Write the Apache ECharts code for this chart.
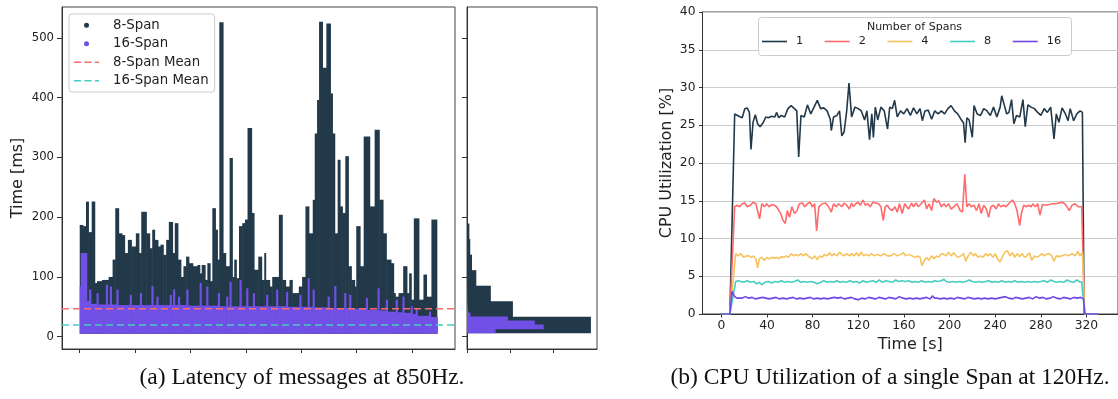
<!DOCTYPE html>
<html><head><meta charset="utf-8">
<script src="https://cdn.jsdelivr.net/npm/echarts@6/dist/echarts.min.js"></script>
<style>html,body{margin:0;padding:0;background:#fff}#c{width:1118px;height:399px}</style>
</head><body><div id="c"></div>
<script>
// ---------- (a) latency scatter: column envelopes [xStart, xEnd, topMs] ----------
const latFloor = 5;
const lat8 = [[0,2.7,187],[2.7,5.7,185],[5.7,7.8,226],[7.8,10.8,175],[10.8,13.5,226],[13.5,15.6,90],[15.6,20.1,93],[20.1,26.1,95],[26.1,29.7,100],[29.7,32.1,129],[32.1,35.1,215],[35.1,38.1,173],[38.1,40.5,170],[40.5,43.5,140],[43.5,46.6,162],[46.6,50.7,151],[50.7,53.4,173],[53.4,55.6,140],[55.6,60.1,209],[60.1,63.1,173],[63.1,65.5,148],[65.5,67.6,179],[67.6,70.6,162],[70.6,73.0,151],[73.0,75.4,154],[75.4,78.1,137],[78.1,80.5,162],[80.5,83.8,192],[83.8,85.9,140],[85.9,88.6,190],[88.6,91.3,129],[91.3,93.7,100],[93.7,96.1,118],[96.1,98.5,134],[98.5,102.1,123],[102.1,106.3,118],[106.3,108.4,120],[108.4,110.2,106],[110.2,113.2,120],[113.2,115.3,95],[115.3,117.7,123],[117.7,119.8,93],[119.8,122.5,215],[122.5,124.3,179],[124.3,126.1,129],[126.1,129.4,526],[129.4,131.8,140],[131.8,135.4,118],[135.4,137.8,299],[137.8,139.6,100],[139.6,141.4,129],[141.4,143.9,98],[143.9,146.8,185],[146.8,149.3,190],[149.3,151.6,196],[151.6,155.2,349],[155.2,157.4,207],[157.4,161.3,112],[161.3,164.3,134],[164.3,166.7,95],[166.7,167.9,140],[167.9,171.5,95],[171.5,173.9,84],[173.9,179.9,100],[179.9,182.9,204],[182.9,185.9,95],[185.9,189.5,84],[189.5,191.9,95],[191.9,197.9,73],[197.9,200.9,84],[200.9,203.9,100],[203.9,206.9,218],[206.9,210.5,173],[210.5,212.3,229],[212.3,214.4,340],[214.4,216.2,396],[216.2,219.2,527],[219.2,222.8,450],[222.8,226.4,524],[226.4,228.2,407],[228.2,230.3,340],[230.3,233.0,173],[233.0,235.1,296],[235.1,237.2,218],[237.2,239.9,207],[239.9,242.6,302],[242.6,245.3,118],[245.3,248.3,95],[248.3,249.8,84],[249.8,253.2,185],[253.2,256.5,118],[256.5,261.9,335],[261.9,266.4,218],[266.4,270.5,346],[270.5,273.9,229],[273.9,276.9,173],[276.9,281.1,129],[281.1,283.5,123],[283.5,285.0,73],[285.0,288.0,67],[288.0,292.2,73],[292.2,295.5,118],[295.5,297.6,73],[297.6,299.4,106],[299.4,301.8,62],[301.8,306.3,198],[306.3,310.5,62],[310.5,313.2,104],[313.2,317.7,67],[317.7,322.5,196]];
const lat16 = [[0,0.9,84],[0.9,6.3,140],[6.3,8.4,60],[8.4,10,79],[10,15.2,55],[15.2,16.6,73],[16.6,23.6,54],[23.6,25.0,87],[25.0,27.2,54],[27.2,28.6,84],[28.6,33.2,54],[33.2,34.6,79],[34.6,45.2,53],[45.2,46.6,70],[46.6,54.3,53],[54.3,55.7,73],[55.7,64.8,53],[64.8,66.2,85],[66.2,69.3,53],[69.3,70.7,67],[70.7,81.3,53],[81.3,82.7,70],[82.7,84.3,53],[84.3,85.7,79],[85.7,88.8,53],[88.8,90.2,67],[90.2,96.3,53],[96.3,97.7,79],[97.7,108.3,52],[108.3,109.7,90],[109.7,114.3,52],[114.3,115.7,84],[115.7,124.8,52],[124.8,126.2,73],[126.2,132.3,51],[132.3,133.7,67],[133.7,135.3,51],[135.3,136.7,92],[136.7,144.3,51],[144.3,145.7,95],[145.7,150.4,51],[150.4,151.8,81],[151.8,156.4,51],[156.4,157.8,73],[157.8,168.4,51],[168.4,169.8,70],[169.8,177.4,51],[177.4,178.8,79],[178.8,186.4,51],[186.4,187.8,75],[187.8,198.4,50],[198.4,199.8,70],[199.8,205.9,50],[205.9,207.3,98],[207.3,210.4,50],[210.4,211.8,79],[211.8,223.9,49],[223.9,225.3,67],[225.3,229.9,48],[229.9,231.3,85],[231.3,238.9,48],[238.9,240.3,73],[240.3,243.4,48],[243.4,244.8,70],[244.8,258.5,47],[258.5,259.9,65],[259.9,269.0,45],[269.0,270.4,81],[270.4,276.5,44],[276.5,277.9,62],[277.9,285.5,42],[285.5,286.9,62],[286.9,291.5,41],[291.5,292.9,67],[292.9,299.0,40],[299.0,300.4,51],[300.4,303.5,38],[303.5,304.9,48],[304.9,315.5,35],[315.5,316.9,42],[316.9,323,33]];
const mean8 = 46.8;
const mean16 = 19.8;
const latTicksY = [0,100,200,300,400,500];
const latTicksX = [0,50,100,150,200,250,300];

// ---------- histogram (counts in thousands) ----------
const hist8Edges = [6.7,32.7,58.7,84.7,110.7,136.7,162.7,188.7,214.7,240.7,266.7,292.7,318.7,344.7,370.7,396.7,422.7,448.7,474.7,500.7,526.7];
const hist8Counts = [57.2,21.2,11.0,4.3,2.3,1.5,1.1,0.3,0.15,0.1,0.08,0.06,0.05,0.04,0.03,0.03,0.02,0.02,0.02,0.01];
const hist16Edges = [6.5,13.2,19.9,26.6,33.3,40.0,46.7,53.4,60.1,66.8,73.5,80.2,86.9,93.6,100.3,107.0,113.7,120.4,127.1,133.8,140.5];
const hist16Counts = [13.2,35.4,31.3,18.9,1.6,0.5,0.3,0.2,0.12,0.08,0.06,0.04,0.03,0.02,0.02,0.01,0.01,0.01,0.01,0.01];
const histTicksX = [0,20,40];

// ---------- (b) CPU utilization [time s, %] ----------
const cpu1 = [[0,0],[7.5,0],[11.7,26.5],[15.5,26.2],[18.3,26.0],[20.6,27.2],[22.6,27.3],[24.6,26.7],[26.0,21.8],[27.8,25.4],[29.8,26.4],[31.8,25.2],[34.0,24.8],[36.9,25.4],[38.9,26.1],[41.2,26.0],[44.1,26.2],[46.9,26.1],[48.4,26.7],[50.3,26.0],[52.6,26.3],[55.5,26.1],[58.4,27.2],[61.2,27.6],[64.1,27.2],[66.1,26.9],[67.8,20.8],[69.8,26.3],[72.7,26.1],[75.5,27.7],[78.4,26.5],[81.3,27.4],[84.1,28.3],[87.0,27.2],[89.8,27.3],[92.7,26.9],[95.5,25.8],[96.4,24.3],[98.4,26.1],[101.3,26.3],[103.6,26.9],[105.6,23.6],[107.6,24.1],[109.9,26.9],[111.9,30.6],[114.2,26.1],[117.1,27.4],[120.0,27.2],[122.7,26.9],[125.6,25.7],[127.6,26.9],[129.9,23.1],[131.9,26.5],[133.3,23.4],[135.0,27.4],[137.1,25.7],[139.9,27.4],[142.8,26.9],[145.7,24.5],[147.6,27.4],[149.9,27.2],[151.9,28.3],[154.2,26.1],[157.1,26.9],[159.9,26.5],[162.8,27.2],[165.7,26.3],[168.5,27.3],[171.4,26.5],[174.2,27.2],[176.2,25.6],[178.5,26.9],[181.4,27.0],[184.3,25.8],[187.1,26.9],[190.0,26.5],[192.9,26.9],[195.7,26.5],[198.6,27.2],[201.4,27.6],[204.3,26.9],[207.2,26.5],[210.0,25.8],[212.3,25.3],[213.7,22.7],[215.2,26.0],[217.2,25.7],[220.0,23.4],[221.5,27.6],[224.3,26.5],[227.2,26.3],[230.0,27.2],[232.9,26.9],[235.8,26.3],[238.6,27.4],[241.5,26.1],[244.4,27.4],[245.8,28.9],[247.8,27.8],[250.1,26.5],[252.1,26.7],[254.4,28.4],[256.4,25.2],[258.7,26.3],[261.6,26.1],[264.4,28.4],[266.4,24.8],[268.7,27.7],[271.5,27.4],[274.4,27.2],[277.3,26.7],[280.1,26.3],[283.0,27.2],[285.8,26.7],[288.7,27.4],[291.6,23.2],[293.6,26.5],[295.9,25.4],[298.7,27.3],[301.6,26.5],[303.9,25.6],[305.8,27.2],[308.8,25.6],[311.6,26.5],[314.5,26.9],[316.5,26.7],[318,0],[330,0]];
const cpu2 = [[0,0],[7.5,0],[11.7,14.2],[14.0,14.4],[16.0,14.2],[18.3,14.6],[20.6,14.7],[22.6,14.2],[25.5,14.4],[27.8,14.8],[30.3,14.6],[32.0,14.8],[33.5,12.6],[35.5,14.6],[37.8,14.2],[39.8,14.6],[41.8,14.2],[44.1,14.5],[46.4,14.4],[48.4,14.2],[49.8,14.4],[52.1,13.3],[54.1,12.4],[56.1,12.0],[57.8,13.7],[59.8,12.8],[61.8,14.2],[64.1,13.3],[66.4,13.7],[68.4,14.6],[71.2,14.7],[73.2,14.2],[75.5,14.6],[77.8,14.8],[79.8,14.2],[81.8,14.6],[83.5,11.0],[85.5,14.2],[88.4,14.6],[91.3,14.7],[94.1,14.2],[96.4,13.5],[98.4,14.6],[100.7,14.2],[102.8,14.6],[105.6,14.2],[107.6,14.7],[109.9,14.4],[112.2,13.9],[114.2,14.7],[115.6,14.2],[117.9,14.6],[119.9,14.8],[121.9,14.4],[124.2,15.1],[126.2,14.4],[128.5,14.6],[130.5,14.2],[132.8,14.8],[135.6,14.7],[137.9,14.6],[139.9,14.2],[141.9,12.4],[143.6,14.2],[145.6,14.4],[147.6,13.9],[149.9,13.7],[152.2,14.2],[154.2,13.5],[156.2,14.6],[158.5,13.3],[160.8,14.6],[164.1,13.9],[166.7,14.7],[168.5,14.2],[170.5,14.7],[172.8,14.2],[175.1,14.6],[178.0,15.1],[180.0,13.9],[182.0,14.6],[184.3,13.7],[186.3,15.3],[188.6,14.8],[190.6,15.0],[192.8,14.2],[195.1,14.6],[197.1,14.2],[199.2,14.6],[201.4,13.9],[203.7,14.2],[206.6,14.6],[209.4,13.7],[211.4,13.5],[213.4,18.5],[215.2,14.2],[217.2,14.6],[219.2,14.2],[221.5,14.4],[223.7,13.7],[225.8,14.6],[227.8,13.3],[230.0,14.4],[232.3,13.9],[234.3,12.8],[236.3,14.2],[238.6,14.4],[240.9,13.9],[242.9,14.6],[244.9,14.2],[247.2,14.4],[249.5,14.2],[252.4,14.7],[255.2,15.1],[257.2,14.6],[259.2,13.7],[261.5,11.7],[263.0,13.3],[265.0,14.4],[267.2,14.2],[269.5,14.4],[271.5,14.2],[273.0,14.6],[275.3,14.2],[277.3,14.6],[279.3,13.1],[281.5,14.5],[284.4,14.4],[287.3,14.5],[290.1,14.6],[293.0,14.6],[295.8,14.7],[298.7,14.8],[301.0,14.6],[303.0,14.2],[305.0,13.7],[307.3,14.4],[310.1,14.6],[313.0,14.2],[315.9,14.2],[317.3,14.2],[318.3,0],[330,0]];
const cpu4 = [[0,0],[7.5,0],[12.6,8.0],[14.9,7.7],[16.9,8.0],[19.7,7.5],[21.7,7.7],[24.0,7.7],[26.3,7.5],[28.3,7.7],[30.3,7.3],[31.8,6.1],[33.2,7.3],[35.5,7.5],[37.8,7.1],[39.8,7.5],[41.8,7.3],[44.1,7.5],[46.4,7.4],[48.4,7.5],[50.4,7.3],[52.6,7.6],[54.9,7.5],[56.9,7.7],[58.9,7.5],[61.2,8.0],[63.5,7.7],[65.5,7.9],[67.5,7.7],[69.8,8.0],[72.1,7.7],[74.1,8.0],[76.1,7.7],[77.8,7.5],[79.8,7.3],[81.8,7.7],[84.1,7.2],[86.4,7.7],[88.4,7.5],[90.4,7.9],[92.7,7.7],[95.0,8.1],[97.0,7.7],[99.0,8.0],[101.3,7.7],[103.6,8.2],[105.6,7.9],[107.6,7.7],[109.9,8.0],[112.2,7.7],[114.2,8.0],[116.2,7.7],[118.5,8.1],[120.7,7.7],[122.7,8.2],[124.7,7.7],[127.0,7.9],[129.3,7.7],[131.3,8.0],[134.2,7.7],[137.1,7.9],[139.9,7.7],[142.8,8.0],[145.6,7.7],[148.5,7.7],[151.4,8.0],[154.2,7.7],[157.1,7.9],[159.9,8.1],[161.4,7.7],[164.2,7.9],[167.1,7.7],[170.0,7.5],[172.3,7.7],[174.3,7.5],[175.8,6.4],[178.0,7.1],[180.0,7.5],[182.0,7.1],[184.3,7.7],[186.6,7.3],[188.6,7.7],[190.6,7.5],[192.8,8.0],[195.1,7.9],[197.1,7.7],[199.2,8.2],[201.4,7.7],[203.7,8.1],[205.7,7.7],[207.7,7.5],[210.0,7.7],[212.3,8.0],[214.3,7.0],[216.3,7.7],[218.6,8.2],[220.9,7.7],[222.9,8.0],[224.9,7.5],[227.2,7.7],[229.5,7.5],[231.5,8.0],[233.5,7.7],[235.8,8.0],[238.1,7.5],[240.1,8.0],[242.1,7.3],[244.4,6.9],[246.7,7.7],[248.7,8.2],[250.7,8.4],[253.0,7.7],[255.2,8.1],[257.2,7.5],[259.2,8.0],[261.5,7.6],[263.8,8.0],[265.8,7.5],[267.8,7.7],[270.1,8.1],[272.1,7.1],[274.4,7.7],[276.4,7.5],[278.7,7.7],[281.0,8.0],[283.0,7.7],[285.0,7.9],[287.3,8.0],[289.6,7.7],[291.6,7.0],[293.6,7.7],[295.8,7.6],[298.7,7.7],[301.6,7.9],[304.4,7.7],[307.3,8.0],[310.1,7.7],[312.4,8.3],[314.5,7.7],[316.5,8.2],[317.5,8.0],[318.5,0],[330,0]];
const cpu8 = [[0,0],[7.5,0],[12.6,4.3],[14.9,4.4],[16.9,4.3],[19.7,4.2],[22.6,4.4],[25.5,4.2],[28.3,4.3],[31.2,4.0],[33.2,4.2],[35.5,3.9],[38.3,4.2],[41.2,4.3],[44.1,4.1],[46.9,4.3],[49.8,4.2],[52.6,4.4],[55.5,4.2],[58.4,4.3],[61.2,4.2],[64.1,4.3],[67.0,4.5],[69.8,4.2],[72.7,4.3],[75.5,4.2],[78.4,4.3],[81.3,4.2],[84.1,4.0],[87.0,4.2],[89.8,4.4],[92.7,4.2],[95.6,4.3],[98.4,4.2],[101.3,4.4],[104.1,4.2],[107.0,4.3],[109.9,4.2],[112.7,4.4],[115.6,4.2],[118.5,4.3],[121.3,4.1],[124.2,4.4],[127.0,4.2],[129.9,4.3],[132.8,4.4],[135.6,4.2],[138.5,4.5],[141.3,4.2],[144.2,4.4],[147.1,4.3],[149.9,4.2],[152.8,4.5],[155.6,4.3],[158.5,4.4],[161.4,4.3],[164.2,4.4],[167.1,4.2],[170.0,4.3],[172.8,4.2],[175.6,4.4],[178.5,4.2],[181.4,4.3],[184.3,4.2],[187.1,4.4],[190.0,4.3],[192.8,4.4],[195.1,4.6],[197.1,4.3],[200.0,4.2],[202.8,4.3],[205.7,4.2],[208.6,4.3],[211.4,4.2],[214.3,4.3],[217.2,4.5],[220.0,4.3],[222.9,4.2],[225.8,4.3],[228.6,4.2],[231.5,4.3],[234.3,4.4],[237.2,4.2],[240.1,4.3],[242.9,4.2],[245.8,4.4],[248.7,4.2],[251.6,4.3],[254.4,4.2],[257.2,4.4],[260.1,4.2],[263.0,4.3],[265.8,4.2],[268.7,4.3],[271.5,4.2],[274.4,4.3],[277.3,4.2],[280.1,4.3],[283.0,4.4],[285.8,4.2],[288.7,4.5],[291.6,4.3],[294.4,4.2],[297.3,4.3],[300.1,4.2],[303.0,4.5],[305.8,4.3],[308.7,4.2],[311.6,4.5],[313.6,4.3],[315.9,4.2],[317.6,4.2],[318.6,0],[330,0]];
const cpu16 = [[0,0],[7.5,0],[9.3,3.0],[11.7,2.3],[13.5,2.1],[15,2.0],[18,2.1],[21,2.3],[24,2.1],[27,2.2],[30,2.0],[33,2.1],[36,2.2],[39,2.1],[42,2.0],[45,2.1],[48,2.2],[51,2.0],[54,2.1],[57,2.0],[60,2.1],[63,2.2],[66,2.0],[69,2.1],[72,2.0],[75,2.1],[78,2.2],[81,2.0],[84,2.1],[87,2.0],[90,2.1],[93,2.0],[96,2.1],[99,2.2],[102,2.1],[105,2.2],[108,2.0],[111,2.1],[114,2.2],[117,2.0],[120,1.9],[123,2.1],[126,2.0],[129,2.2],[132,2.1],[135,2.0],[138,2.2],[141,2.1],[144,2.0],[147,2.2],[150,2.1],[153,2.0],[156,2.3],[159,2.1],[162,2.0],[165,2.1],[168,2.0],[171,2.1],[174,2.0],[177,2.1],[180,2.2],[183,2.0],[185,2.4],[187,2.1],[189,2.1],[192,2.0],[195,2.1],[198,2.0],[201,2.1],[204,2.0],[207,2.2],[210,2.1],[213,2.0],[216,2.2],[219,2.1],[222,2.0],[225,2.1],[228,2.0],[231,2.1],[234,2.0],[237,2.1],[240,2.0],[243,2.1],[246,2.2],[249,2.3],[252,2.1],[255,2.0],[258,2.2],[261,2.1],[264,2.0],[267,2.1],[270,2.2],[273,2.0],[276,2.3],[279,2.1],[282,2.2],[285,2.0],[288,2.1],[291,2.3],[294,2.1],[297,2.0],[300,2.2],[303,2.1],[306,2.0],[309,2.2],[312,2.1],[315,2.2],[317.5,2.0],[318.6,0],[330,0]];
const cpuTicksX = [0,40,80,120,160,200,240,280,320];
const spanNames = ['1','2','4','8','16'];

const C = {dark:'#22394a', purple:'#7150e6', red:'#ff6b6b', orange:'#f7c25c', teal:'#45cdc4', purple2:'#7048e8'};
const FONT = 'DejaVu Sans';
const LAT_X = [-16, 339], LAT_Y = [-20.5, 551.5];
const DASH_ICON = 'path://M0,0H7V1.5H0Z M10.5,0H17.5V1.5H10.5Z M21,0H25V1.5H21Z';
const LINE_ICON = 'path://M0,0H25V1.6H0Z';

function rangeRect(color){
  return function(params, api){
    const p0 = api.coord([api.value(0), api.value(3)]);
    const p1 = api.coord([api.value(1), api.value(2)]);
    return {type:'rect', shape:{x:p0[0], y:p0[1], width:p1[0]-p0[0]+0.6, height:p1[1]-p0[1]}, style:{fill:color}};
  };
}
function histRect(color){
  return function(params, api){
    const p0 = api.coord([0, api.value(2)]);
    const p1 = api.coord([api.value(0), api.value(1)]);
    return {type:'rect', shape:{x:p0[0], y:p0[1]-0.4, width:p1[0]-p0[0], height:p1[1]-p0[1]+0.8}, style:{fill:color}};
  };
}
function histData(edges, counts){ return counts.map((c,i)=>[c, edges[i], edges[i+1]]); }

const axisLineStyle = {show:true, onZero:false, lineStyle:{color:'#333', width:1}};

const chart = echarts.init(document.getElementById('c'), null, {renderer:'canvas'});
chart.setOption({
  animation:false,
  textStyle:{fontFamily:FONT},
  grid:[
    {left:62, top:7, width:393, height:342, show:true, borderColor:'#444', borderWidth:1, backgroundColor:'transparent'},
    {left:467, top:7, width:130, height:342, show:true, borderColor:'#444', borderWidth:1, backgroundColor:'transparent'},
    {left:702.5, top:12, width:424.5, height:302, show:true, borderColor:'#444', borderWidth:1, backgroundColor:'transparent'}
  ],
  xAxis:[
    {type:'value', gridIndex:0, min:LAT_X[0], max:LAT_X[1], axisLine:axisLineStyle, splitLine:{show:false},
      axisTick:{show:true, length:4, customValues:latTicksX, lineStyle:{color:'#333'}}, axisLabel:{show:false}},
    {type:'value', gridIndex:1, min:0, max:60, axisLine:axisLineStyle, splitLine:{show:false},
      axisTick:{show:true, length:4, customValues:histTicksX, lineStyle:{color:'#333'}}, axisLabel:{show:false}},
    {type:'value', gridIndex:2, min:-16.5, max:347.7, axisLine:axisLineStyle, splitLine:{show:false},
      axisTick:{show:true, length:3.5, customValues:cpuTicksX, lineStyle:{color:'#333'}},
      axisLabel:{customValues:cpuTicksX, fontSize:12.3, color:'#222', margin:6},
      name:'Time [s]', nameLocation:'middle', nameGap:21, nameTextStyle:{fontSize:16, color:'#222'}}
  ],
  yAxis:[
    {type:'value', gridIndex:0, min:LAT_Y[0], max:LAT_Y[1], axisLine:axisLineStyle, splitLine:{show:false},
      axisTick:{show:true, length:5, customValues:latTicksY, lineStyle:{color:'#333'}},
      axisLabel:{customValues:latTicksY, fontSize:11.7, color:'#222', margin:8},
      name:'Time [ms]', nameLocation:'middle', nameGap:36, nameTextStyle:{fontSize:16, color:'#222'}},
    {type:'value', gridIndex:1, min:LAT_Y[0], max:LAT_Y[1], axisLine:axisLineStyle, splitLine:{show:false},
      axisTick:{show:true, length:5, customValues:latTicksY, lineStyle:{color:'#333'}}, axisLabel:{show:false}},
    {type:'value', gridIndex:2, min:0, max:40, interval:5, axisLine:axisLineStyle,
      axisTick:{show:true, length:3.5, lineStyle:{color:'#333'}},
      axisLabel:{fontSize:12.3, color:'#222', margin:7},
      splitLine:{show:true, lineStyle:{color:'#cccccc', width:1}},
      name:'CPU Utilization [%]', nameLocation:'middle', nameGap:28, nameTextStyle:{fontSize:16, color:'#222'}}
  ],
  legend:[
    {orient:'vertical', left:69, top:14, padding:[2,6,2,5], itemGap:0, itemWidth:25, itemHeight:5,
     backgroundColor:'rgba(255,255,255,0.85)', borderColor:'#cccccc', borderWidth:1, borderRadius:3,
     textStyle:{fontSize:13.3, color:'#222', lineHeight:18.5, padding:[0,0,0,9]},
     data:[{name:'8-Span', icon:'circle'},{name:'16-Span', icon:'circle'},
           {name:'8-Span Mean', icon:DASH_ICON},{name:'16-Span Mean', icon:DASH_ICON}]},
    {orient:'horizontal', left:762, top:36, padding:0, itemGap:21.5, itemWidth:25, itemHeight:10,
     textStyle:{fontSize:11.3, color:'#222', padding:[0,0,0,4]},
     data:spanNames.map(n=>({name:n, icon:LINE_ICON}))}
  ],
  graphic:[
    {type:'rect', left:758, top:17, z:3, shape:{width:313, height:38, r:3}, style:{fill:'rgba(255,255,255,0.9)', stroke:'#cccccc', lineWidth:1}},
    {type:'text', z:5, x:914.5, y:27, style:{text:'Number of Spans', font:'11px "DejaVu Sans"', fill:'#222', textAlign:'center', textVerticalAlign:'middle'}},
    {type:'text', x:302, y:378, style:{text:'(a) Latency of messages at 850Hz.', font:'23.5px "Liberation Serif"', fill:'#111', textAlign:'center', textVerticalAlign:'middle'}},
    {type:'text', x:890, y:378, style:{text:'(b) CPU Utilization of a single Span at 120Hz.', font:'23.5px "Liberation Serif"', fill:'#111', textAlign:'center', textVerticalAlign:'middle'}}
  ],
  series:[
    {name:'8-Span', type:'custom', xAxisIndex:0, yAxisIndex:0, clip:true, itemStyle:{color:C.dark},
     encode:{x:[0,1], y:[2,3]}, data:lat8.map(d=>[d[0], d[1], latFloor, d[2]]), renderItem:rangeRect(C.dark)},
    {name:'16-Span', type:'custom', xAxisIndex:0, yAxisIndex:0, clip:true, itemStyle:{color:C.purple},
     encode:{x:[0,1], y:[2,3]}, data:lat16.map(d=>[d[0], d[1], latFloor, d[2]]), renderItem:rangeRect(C.purple)},
    {name:'8-Span Mean', type:'line', xAxisIndex:0, yAxisIndex:0, symbol:'none', z:5,
     lineStyle:{color:C.red, width:1.5, type:[7,4]}, itemStyle:{color:C.red}, data:[[LAT_X[0], mean8],[LAT_X[1], mean8]]},
    {name:'16-Span Mean', type:'line', xAxisIndex:0, yAxisIndex:0, symbol:'none', z:5,
     lineStyle:{color:C.teal, width:1.5, type:[7,4]}, itemStyle:{color:C.teal}, data:[[LAT_X[0], mean16],[LAT_X[1], mean16]]},
    {name:'hist8', type:'custom', xAxisIndex:1, yAxisIndex:1, clip:true, encode:{x:0, y:[1,2]},
     data:histData(hist8Edges, hist8Counts), renderItem:histRect(C.dark)},
    {name:'hist16', type:'custom', xAxisIndex:1, yAxisIndex:1, clip:true, encode:{x:0, y:[1,2]},
     data:histData(hist16Edges, hist16Counts), renderItem:histRect(C.purple)},
    {name:'1', type:'line', xAxisIndex:2, yAxisIndex:2, symbol:'none', data:cpu1, lineStyle:{color:C.dark, width:1.6}, itemStyle:{color:C.dark}},
    {name:'2', type:'line', xAxisIndex:2, yAxisIndex:2, symbol:'none', data:cpu2, lineStyle:{color:C.red, width:1.6}, itemStyle:{color:C.red}},
    {name:'4', type:'line', xAxisIndex:2, yAxisIndex:2, symbol:'none', data:cpu4, lineStyle:{color:C.orange, width:1.6}, itemStyle:{color:C.orange}},
    {name:'8', type:'line', xAxisIndex:2, yAxisIndex:2, symbol:'none', data:cpu8, lineStyle:{color:C.teal, width:1.6}, itemStyle:{color:C.teal}},
    {name:'16', type:'line', xAxisIndex:2, yAxisIndex:2, symbol:'none', data:cpu16, lineStyle:{color:C.purple2, width:1.6}, itemStyle:{color:C.purple2}}
  ]
});
</script></body></html>
